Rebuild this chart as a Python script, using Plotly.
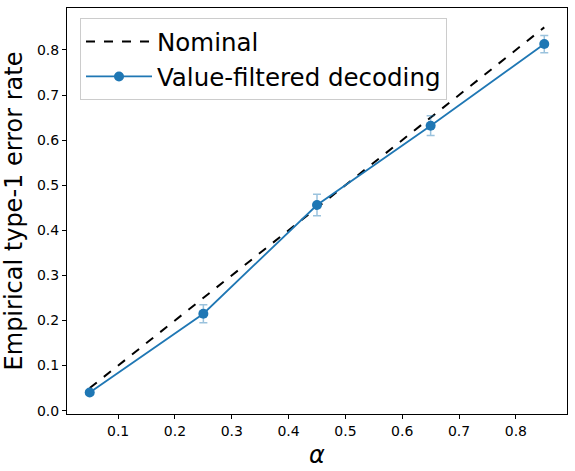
import plotly.graph_objects as go

alpha = [0.05, 0.25, 0.45, 0.65, 0.85]
nominal = [0.05, 0.25, 0.45, 0.65, 0.85]
empirical = [0.040, 0.215, 0.456, 0.632, 0.813]
err = [0.005, 0.020, 0.024, 0.022, 0.019]

blue = "#1f77b4"
font = "DejaVu Sans"

fig = go.Figure()
fig.add_trace(go.Scatter(
    x=alpha, y=nominal, mode="lines", name="Nominal",
    line=dict(color="black", width=2, dash="dash"),
))
fig.add_trace(go.Scatter(
    x=alpha, y=empirical, mode="lines+markers", name="Value-filtered decoding",
    line=dict(color=blue, width=1.8),
    marker=dict(color=blue, size=10),
    error_y=dict(type="data", array=err, visible=True,
                 color="rgba(31,119,180,0.45)", thickness=1.5, width=4),
))

axis_common = dict(
    showline=True, linecolor="black", linewidth=1, mirror=True,
    ticks="outside", ticklen=4, tickcolor="black", tickwidth=1,
    showgrid=False, zeroline=False,
    tickfont=dict(family=font, size=14, color="black"),
)

fig.update_layout(
    width=575, height=471,
    margin=dict(l=67, r=8, t=7, b=55),
    paper_bgcolor="white", plot_bgcolor="white",
    showlegend=True,
    legend=dict(
        x=0.026, y=0.975, xanchor="left", yanchor="top",
        bordercolor="#cccccc", borderwidth=1, bgcolor="rgba(255,255,255,0.8)",
        font=dict(family=font, size=24.5, color="black"),
        itemwidth=66,
    ),
    xaxis=dict(range=[0.01, 0.89], tickvals=[0.1, 0.2, 0.3, 0.4, 0.5, 0.6, 0.7, 0.8],
               tickformat=".1f",
               title=dict(text="<i>α</i>", font=dict(family=font, size=24, color="black"), standoff=8),
               **axis_common),
    yaxis=dict(range=[-0.0075, 0.893], tickvals=[0, 0.1, 0.2, 0.3, 0.4, 0.5, 0.6, 0.7, 0.8],
               tickformat=".1f",
               title=dict(text="Empirical type-1 error rate", font=dict(family=font, size=24, color="black"), standoff=10),
               **axis_common),
)

fig.write_html("out.html")
